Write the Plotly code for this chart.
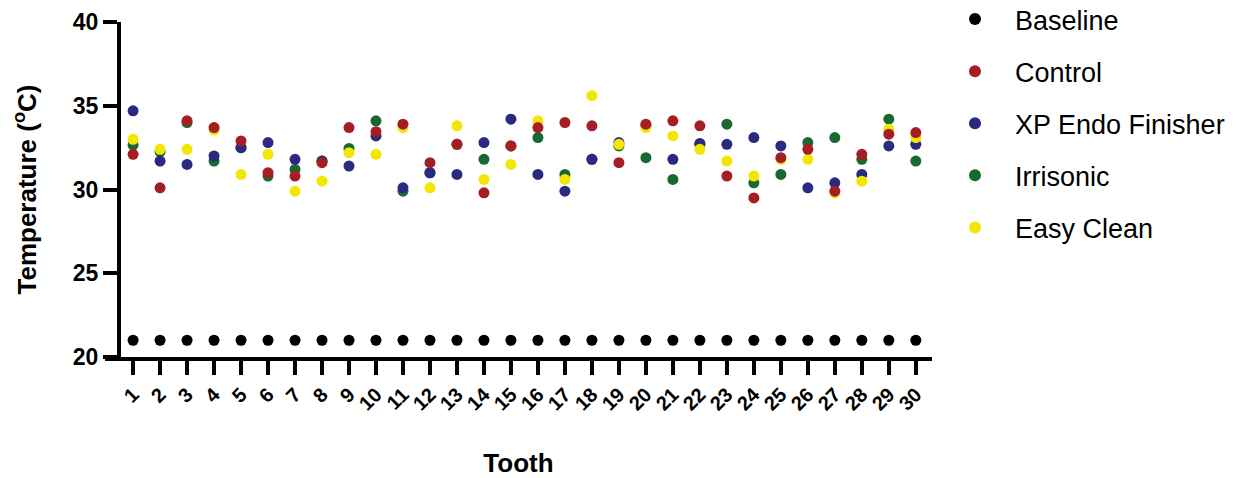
import plotly.graph_objects as go

teeth = list(range(1, 31))
tick_labels = [str(t) for t in teeth]

baseline = [21.0] * 30
control = [32.1, 30.1, 34.1, 33.7, 32.9, 31.0, 30.8, 31.6, 33.7, 33.45,
           33.9, 31.6, 32.7, 29.8, 32.6, 33.7, 34.0, 33.8, 31.6, 33.9,
           34.1, 33.8, 30.8, 29.5, 31.9, 32.4, 29.9, 32.1, 33.3, 33.4]
xp_endo = [34.7, 31.7, 31.5, 32.0, 32.5, 32.8, 31.8, 31.7, 31.4, 33.2,
           30.1, 31.0, 30.9, 32.8, 34.2, 30.9, 29.9, 31.8, 32.8, 33.8,
           31.8, 32.75, 32.7, 33.1, 32.6, 30.1, 30.4, 30.9, 32.6, 32.7]
irrisonic = [32.65, 32.25, 34.0, 31.7, 32.5, 30.8, 31.2, 31.7, 32.45, 34.1,
             29.9, 31.0, 32.7, 31.8, 32.6, 33.1, 30.9, 31.8, 32.6, 31.9,
             30.6, 32.7, 33.9, 30.4, 30.9, 32.8, 33.1, 31.8, 34.2, 31.7]
easy_clean = [33.0, 32.4, 32.4, 33.55, 30.9, 32.1, 29.9, 30.5, 32.2, 32.1,
              33.7, 30.1, 33.8, 30.6, 31.5, 34.1, 30.6, 35.6, 32.7, 33.7,
              33.2, 32.4, 31.7, 30.8, 31.8, 31.8, 29.8, 30.5, 33.6, 33.1]

# (name, values, color, legend rank) in drawing order
series = [
    ("Baseline", baseline, "#000000", 1),
    ("Irrisonic", irrisonic, "#17692f", 4),
    ("XP Endo Finisher", xp_endo, "#2c2a80", 3),
    ("Easy Clean", easy_clean, "#f3e600", 5),
    ("Control", control, "#a41e23", 2),
]

fig = go.Figure()
for name, vals, color, rank in series:
    fig.add_trace(go.Scatter(
        x=teeth, y=vals, mode="markers", name=name,
        marker=dict(size=11, color=color, line=dict(width=0)),
        legendrank=rank, legendgroup=name,
    ))

W, H = 1237, 478
shift = 8  # page body margin offset
left_px, right_px = 105 - shift, 932 - shift
top_px, bottom_px = 22 - shift, 357 - shift
yaxis_px = 119 - shift
plot_w = right_px - left_px
plot_h = bottom_px - top_px
legend_left = 935 - shift
legend_bottom = 244

fig.update_layout(
    width=W, height=H,
    margin=dict(l=left_px, r=W - right_px, t=top_px, b=H - bottom_px,
                autoexpand=False),
    paper_bgcolor="white", plot_bgcolor="white",
    font=dict(family="Liberation Sans, Arial, sans-serif", color="black"),
    showlegend=True,
    legend=dict(
        x=(legend_left - left_px) / plot_w, xanchor="left",
        y=(bottom_px - legend_bottom) / plot_h, yanchor="bottom",
        font=dict(size=27, color="black"),
        tracegroupgap=14, itemsizing="constant", itemwidth=70,
        bgcolor="rgba(0,0,0,0)",
    ),
    xaxis=dict(
        range=[-0.04, 30.6], automargin=False,
        tickmode="array", tickvals=teeth, ticktext=tick_labels,
        tickangle=-45,
        ticks="outside", ticklen=14, tickwidth=4, tickcolor="black",
        showline=True, linewidth=4, linecolor="black",
        showgrid=False, zeroline=False,
        tickfont=dict(size=20, weight="bold", color="black"),
        title=dict(text="Tooth", font=dict(size=26, weight="bold"), standoff=41),
    ),
    yaxis=dict(
        range=[20, 40], automargin=False,
        tickvals=[20, 25, 30, 35, 40],
        anchor="free", position=(yaxis_px - left_px) / plot_w,
        ticks="outside", ticklen=14, tickwidth=4, tickcolor="black",
        showline=True, linewidth=4, linecolor="black",
        showgrid=False, zeroline=False,
        tickfont=dict(size=23, weight="bold", color="black"),
        title=dict(text="Temperature (<sup>o</sup>C)", font=dict(size=26, weight="bold"), standoff=28),
    ),
)

fig.write_html("out.html")
